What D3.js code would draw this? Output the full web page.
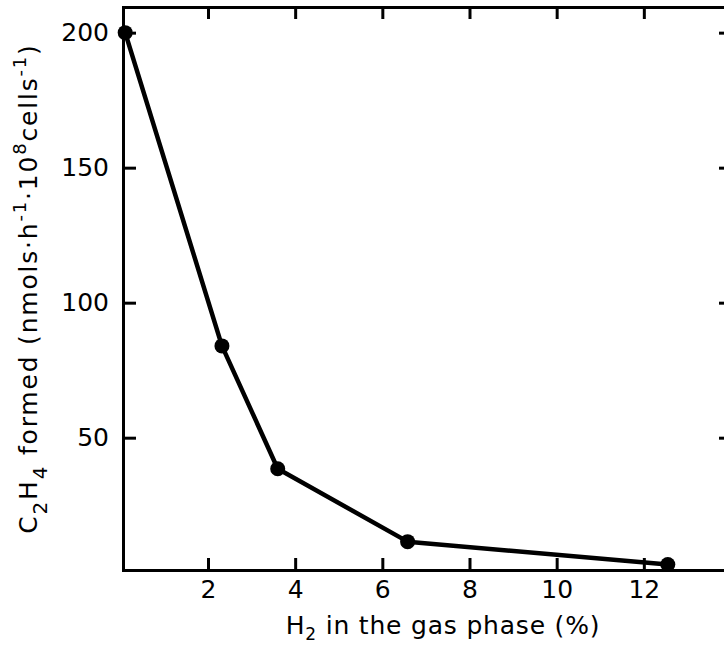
<!DOCTYPE html>
<html>
<head>
<meta charset="utf-8">
<script src="https://cdn.jsdelivr.net/npm/d3@7"></script>
<style>
  body { margin: 0; background: #fff; }
  svg { display: block; font-family: "DejaVu Sans", sans-serif; }
  .axis path, .axis line { stroke: #000; stroke-width: 3; }
</style>
</head>
<body>
<script>
// data
var h2Percent = [0.1, 2.32, 3.6, 6.58, 12.55];
var c2h4Formed = [200, 84, 38.5, 11.5, 3];
var xTicks = [2, 4, 6, 8, 10, 12];
var yTicks = [50, 100, 150, 200];

var W = 724, H = 645;
var mLeft = 123, mRight = 731, mTop = 7, mBottom = 570;

var svg = d3.select("body").append("svg")
    .attr("width", W)
    .attr("height", H);

var x = d3.scaleLinear().domain([0.05, 14]).range([mLeft, mRight]);
var y = d3.scaleLinear().domain([1, 209.5]).range([mBottom, mTop]);

// axes, ticks all point inward
svg.append("g")
    .attr("class", "axis")
    .attr("transform", "translate(0," + mBottom + ")")
    .call(d3.axisBottom(x).tickValues(xTicks).tickSizeInner(-12).tickSizeOuter(0).tickPadding(10).tickFormat(d3.format("d")));

svg.append("g")
    .attr("class", "axis")
    .attr("transform", "translate(0," + mTop + ")")
    .call(d3.axisTop(x).tickValues(xTicks).tickSizeInner(-12).tickSizeOuter(0).tickFormat(""));

svg.append("g")
    .attr("class", "axis")
    .attr("transform", "translate(" + mLeft + ",0)")
    .call(d3.axisLeft(y).tickValues(yTicks).tickSizeInner(-13).tickSizeOuter(0).tickPadding(14).tickFormat(d3.format("d")));

svg.append("g")
    .attr("class", "axis")
    .attr("transform", "translate(" + mRight + ",0)")
    .call(d3.axisRight(y).tickValues(yTicks).tickSizeInner(-12).tickSizeOuter(0).tickFormat(""));

svg.selectAll(".axis").attr("font-family", null).attr("font-size", 25);
svg.selectAll(".axis text").attr("fill", "#000");
svg.selectAll(".axis .domain").attr("stroke-linecap", "square");

// the curve
var pts = h2Percent.map(function(d, i) { return [d, c2h4Formed[i]]; });

svg.append("path")
    .datum(pts)
    .attr("fill", "none")
    .attr("stroke", "#000")
    .attr("stroke-width", 4.5)
    .attr("stroke-linejoin", "round")
    .attr("d", d3.line().x(function(d) { return x(d[0]); }).y(function(d) { return y(d[1]); }));

svg.selectAll("circle.pt")
    .data(pts)
    .enter().append("circle")
    .attr("class", "pt")
    .attr("cx", function(d) { return x(d[0]); })
    .attr("cy", function(d) { return y(d[1]); })
    .attr("r", 7.5)
    .attr("fill", "#000");

// x label
var xl = svg.append("text")
    .attr("x", 443)
    .attr("y", 634)
    .attr("text-anchor", "middle")
    .attr("font-size", 25)
    .attr("letter-spacing", 0.8);
xl.append("tspan").text("H");
xl.append("tspan").attr("font-size", 17).attr("dy", 6).text("2");
xl.append("tspan").attr("dy", -6).text(" in the gas phase (%)");

// y label
var yl = svg.append("text")
    .attr("transform", "translate(37," + ((mTop + mBottom) / 2) + ") rotate(-90)")
    .attr("text-anchor", "middle")
    .attr("font-size", 25)
    .attr("letter-spacing", 1.8);
yl.append("tspan").text("C");
yl.append("tspan").attr("font-size", 20).attr("dy", 10).text("2");
yl.append("tspan").attr("dy", -10).text("H");
yl.append("tspan").attr("font-size", 20).attr("dy", 10).text("4");
yl.append("tspan").attr("dy", -10).text(" formed (nmols\u00b7h");
yl.append("tspan").attr("font-size", 18).attr("dy", -11).text("-1");
yl.append("tspan").attr("dy", 11).text("\u00b710");
yl.append("tspan").attr("font-size", 18).attr("dy", -11).text("8");
yl.append("tspan").attr("dy", 11).text("cells");
yl.append("tspan").attr("font-size", 18).attr("dy", -11).text("-1");
yl.append("tspan").attr("dy", 11).text(")");
</script>
</body>
</html>
